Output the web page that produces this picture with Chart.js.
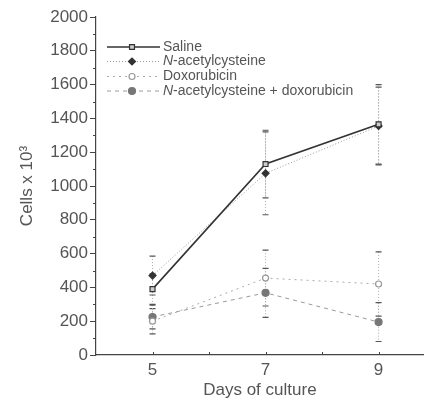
<!DOCTYPE html>
<html>
<head>
<meta charset="utf-8">
<script src="https://cdn.jsdelivr.net/npm/chart.js@4/dist/chart.umd.min.js"></script>
<style>
html,body{margin:0;padding:0;background:#fff;}
#wrap{width:429px;height:403px;position:relative;}
</style>
</head>
<body>
<div id="wrap"><canvas id="c" width="429" height="403"></canvas></div>
<script>
// ---- data ----
const days = [5, 7, 9];
const seriesNames = ['Saline', 'N-acetylcysteine', 'Doxorubicin', 'N-acetylcysteine + doxorubicin'];
const saline = [390, 1130, 1365];
const nac = [470, 1075, 1355];
const dox = [200, 455, 420];
const nacDox = [225, 368, 195];
const salineErr = [90, 200, 235];
const nacErr = [115, 245, 230];
const doxErr = [75, 165, 190];
const nacDoxErr = [70, 145, 115];
const xLabels = [5, 7, 9];

const FONT = '"Liberation Sans", Arial, Helvetica, sans-serif';
const TXT = '#555';
const AX = '#444';

const styles = [
  {color:'#333', width:1.6, dash:[], pointStyle:'rect', radius:3.5, fill:'#ccc', pborder:'#333'},
  {color:'#999', width:1, dash:[1,2], pointStyle:'rectRot', radius:3.5, fill:'#333', pborder:'#333'},
  {color:'#aaa', width:1, dash:[2,4], pointStyle:'circle', radius:3, fill:'#fff', pborder:'#999'},
  {color:'#999', width:1, dash:[4,4], pointStyle:'circle', radius:3.5, fill:'#777', pborder:'#777'}
];
const values = [saline, nac, dox, nacDox];
const errs = [salineErr, nacErr, doxErr, nacDoxErr];

const datasets = values.map((vals, i) => ({
  label: seriesNames[i],
  data: days.map((d, j) => ({x: d, y: vals[j]})),
  borderColor: styles[i].color,
  borderWidth: styles[i].width,
  borderDash: styles[i].dash,
  pointStyle: styles[i].pointStyle,
  pointRadius: styles[i].radius,
  pointBackgroundColor: styles[i].fill,
  pointBorderColor: styles[i].pborder,
  pointBorderWidth: 1.2,
  tension: 0,
  fill: false
}));

const errorBars = {
  id: 'errorBars',
  beforeDatasetsDraw(chart) {
    const {ctx, scales:{x, y}} = chart;
    ctx.save();
    values.forEach((vals, i) => {
      vals.forEach((v, j) => {
        const px = x.getPixelForValue(days[j]);
        const top = y.getPixelForValue(v + errs[i][j]);
        const bot = y.getPixelForValue(Math.max(0, v - errs[i][j]));
        ctx.strokeStyle = '#aaa';
        ctx.lineWidth = 1;
        ctx.setLineDash([1, 2]);
        ctx.beginPath(); ctx.moveTo(px, top); ctx.lineTo(px, bot); ctx.stroke();
        ctx.setLineDash([]);
        ctx.strokeStyle = '#555';
        ctx.lineWidth = 1.2;
        ctx.beginPath();
        ctx.moveTo(px - 3, top); ctx.lineTo(px + 3, top);
        ctx.moveTo(px - 3, bot); ctx.lineTo(px + 3, bot);
        ctx.stroke();
      });
    });
    ctx.restore();
  }
};

const minorTicks = {
  id: 'minorTicks',
  afterDraw(chart) {
    const {ctx, scales:{x, y}, chartArea} = chart;
    ctx.save();
    ctx.strokeStyle = AX;
    ctx.lineWidth = 1;
    ctx.beginPath();
    for (let v = 100; v < 2000; v += 200) {
      const py = Math.round(y.getPixelForValue(v)) + 0.5;
      ctx.moveTo(chartArea.left - 3, py); ctx.lineTo(chartArea.left, py);
    }
    for (let d = 5; d <= 9; d++) {
      const px = Math.round(x.getPixelForValue(d)) + 0.5;
      ctx.moveTo(px, chartArea.bottom); ctx.lineTo(px, chartArea.bottom - 3);
    }
    ctx.stroke();
    ctx.restore();
  }
};

const customLegend = {
  id: 'customLegend',
  afterDraw(chart) {
    const {ctx} = chart;
    const rows = [47, 61.5, 76.5, 91];
    const x0 = 107, x1 = 160, mx = 132, tx = 163;
    ctx.save();
    rows.forEach((ry, i) => {
      const s = styles[i];
      ctx.strokeStyle = s.color;
      ctx.lineWidth = s.width;
      ctx.setLineDash(s.dash);
      ctx.beginPath(); ctx.moveTo(x0, ry); ctx.lineTo(x1, ry); ctx.stroke();
      ctx.setLineDash([]);
      ctx.fillStyle = s.fill; ctx.strokeStyle = s.pborder; ctx.lineWidth = 1.2;
      Chart.helpers.drawPoint(ctx, {pointStyle: s.pointStyle, radius: s.radius, rotation: 0, borderWidth: 1.2}, mx, ry);
      ctx.fillStyle = TXT;
      ctx.textBaseline = 'middle';
      ctx.textAlign = 'left';
      const name = seriesNames[i];
      if (name.startsWith('N-')) {
        ctx.font = 'italic 14px ' + FONT;
        ctx.fillText('N', tx, ry);
        const w = ctx.measureText('N').width;
        ctx.font = '14px ' + FONT;
        ctx.fillText(name.slice(1), tx + w, ry);
      } else {
        ctx.font = '14px ' + FONT;
        ctx.fillText(name, tx, ry);
      }
    });
    ctx.restore();
  }
};

new Chart(document.getElementById('c'), {
  type: 'line',
  data: {datasets},
  plugins: [errorBars, minorTicks, customLegend],
  options: {
    responsive: false,
    animation: false,
    layout: {padding: {top: 17, right: 4, left: 0, bottom: 0}},
    plugins: {legend: {display: false}, tooltip: {enabled: false}},
    scales: {
      x: {
        type: 'linear', min: 4, max: 9.8,
        afterFit(s) { s.height = 48; },
        grid: {drawOnChartArea: false, drawTicks: false},
        border: {display: true, color: AX, width: 1.2},
        ticks: {
          stepSize: 1, autoSkip: false, padding: 5, color: TXT,
          font: {family: FONT, size: 17},
          callback: v => xLabels.includes(v) ? String(v) : ''
        },
        title: {display: true, text: 'Days of culture', color: TXT, font: {family: FONT, size: 17}, padding: {top: 0, bottom: 2}}
      },
      y: {
        min: 0, max: 2000,
        afterFit(s) { s.width = 96; },
        grid: {drawOnChartArea: false, drawTicks: true, tickLength: 6, tickColor: AX},
        border: {display: true, color: AX, width: 1.2},
        ticks: {stepSize: 200, padding: 2, color: TXT, font: {family: FONT, size: 17}, callback: v => String(v)},
        title: {display: true, text: 'Cells x 10³', color: TXT, font: {family: FONT, size: 17}, padding: {top: 17, bottom: 0}}
      }
    }
  }
});
</script>
</body>
</html>
